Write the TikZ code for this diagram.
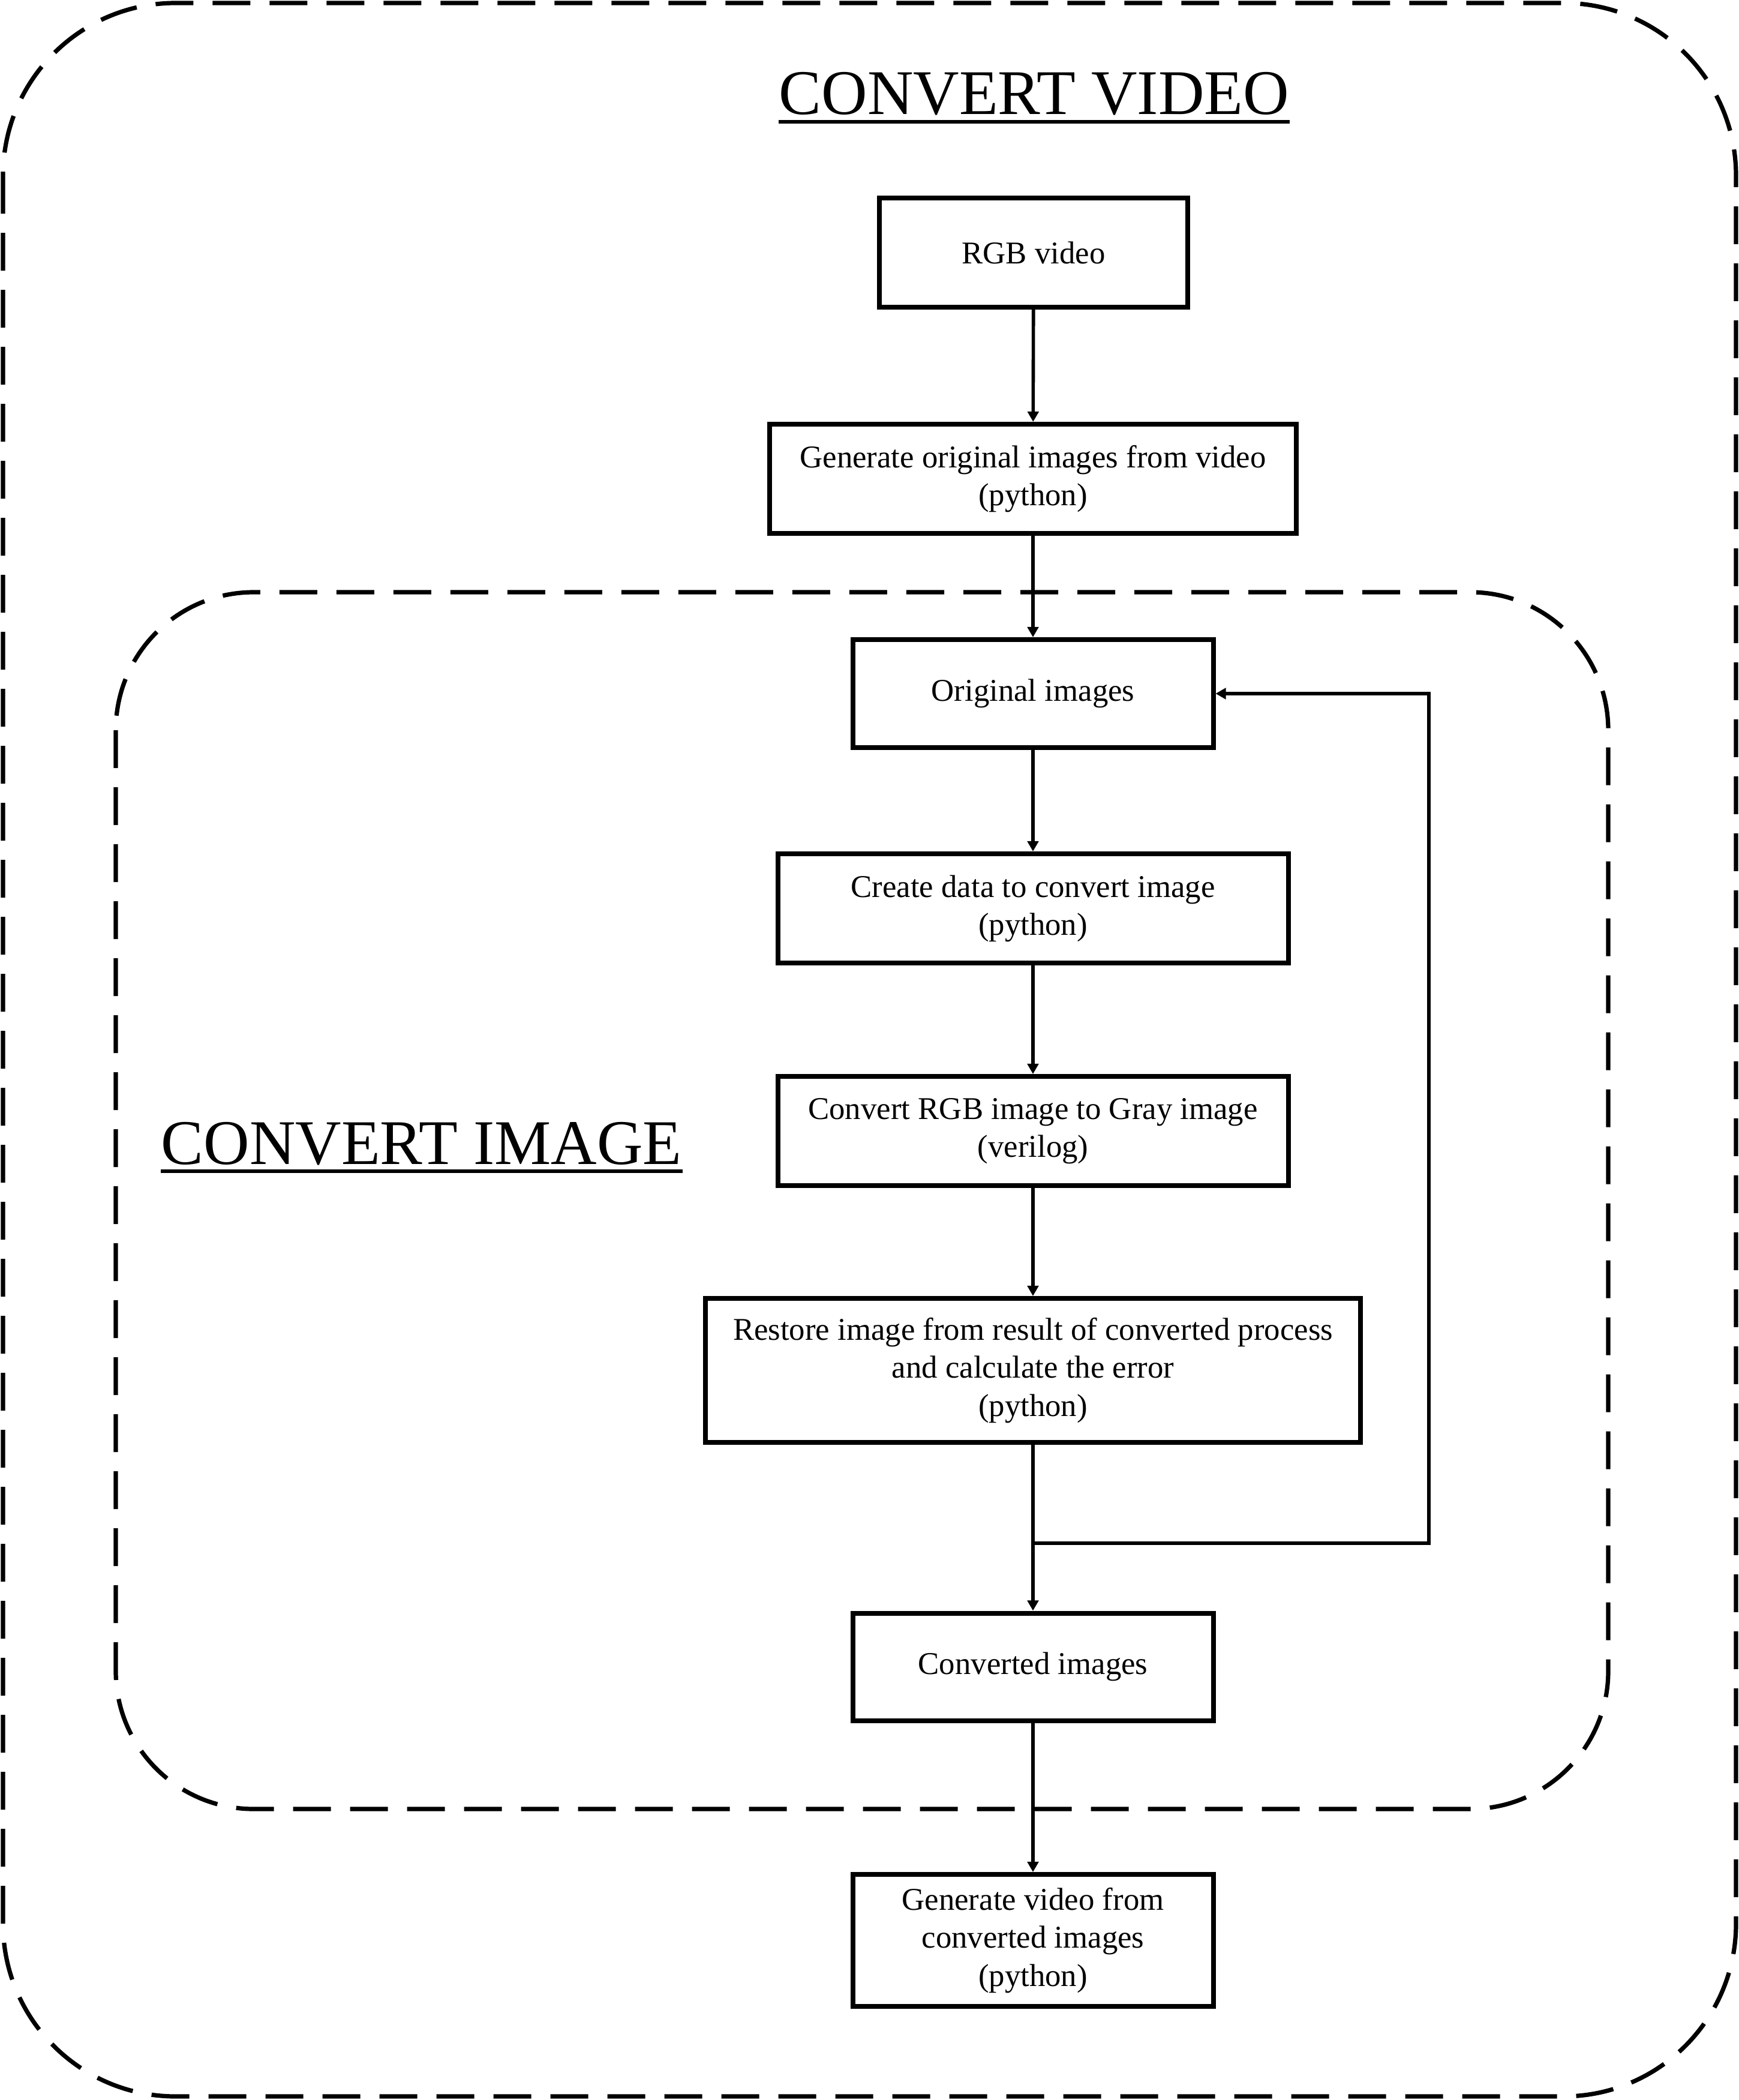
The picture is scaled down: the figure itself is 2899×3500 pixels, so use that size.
\documentclass[tikz,border=0pt]{standalone}
\usepackage{fontspec}
\setmainfont{Liberation Serif}
\usetikzlibrary{arrows.meta}
\begin{document}
\begin{tikzpicture}[x=0.25pt,y=-0.25pt,
  stepbox/.style={draw,line width=2pt,align=center,inner sep=0pt,
    font=\fontsize{13.2}{15.8}\selectfont},
  conn/.style={line width=1.4pt,-{Triangle[length=4.3pt,width=4.6pt]}},
  plainline/.style={line width=1.4pt},
  dashframe/.style={line width=1.8pt,dash pattern=on 15.75pt off 8pt},
  title/.style={inner sep=0pt,anchor=base west,font=\fontsize{26.5}{30}\selectfont},
  uline/.style={line width=1.4pt}]
\useasboundingbox (0,0) rectangle (2899,3500);
% frames
\draw[dashframe,rounded corners=72pt] (5,5) rectangle (2894,3494);
\draw[dashframe,rounded corners=57.5pt] (193,987) rectangle (2681,3015);
% titles
\node[title] (tv) at (1298,191) {CONVERT VIDEO};
\draw[uline] ([yshift=-3pt]tv.base west) -- ([yshift=-3pt]tv.base east);
\node[title] (ti) at (268,1940) {CONVERT IMAGE};
\draw[uline] ([yshift=-3pt]ti.base west) -- ([yshift=-3pt]ti.base east);
% boxes
\node[stepbox,minimum width=128.5pt,minimum height=45.5pt] (rgb) at (1723,421) {RGB video};
\node[stepbox,minimum width=219.5pt,minimum height=45.5pt] (gen) at (1722,798) {Generate original images from video\\(python)};
\node[stepbox,minimum width=150.25pt,minimum height=45pt] (orig) at (1722,1156) {Original images};
\node[stepbox,minimum width=212.75pt,minimum height=45.5pt] (create) at (1722,1514) {Create data to convert image\\(python)};
\node[stepbox,minimum width=212.75pt,minimum height=45.5pt] (conv) at (1722,1885) {Convert RGB image to Gray image\\(verilog)};
\node[stepbox,minimum width=273pt,minimum height=60pt] (restore) at (1722,2284) {Restore image from result of converted process\\and calculate the error\\(python)};
\node[stepbox,minimum width=150.25pt,minimum height=44.75pt] (cimg) at (1722,2778) {Converted images};
\node[stepbox,minimum width=150.25pt,minimum height=55pt] (gvid) at (1722,3234) {Generate video from\\converted images\\(python)};
% connectors
\draw[conn] (rgb) -- (gen);
\draw[conn] (gen) -- (orig);
\draw[conn] (orig) -- (create);
\draw[conn] (create) -- (conv);
\draw[conn] (conv) -- (restore);
\draw[conn] (restore) -- (cimg);
\draw[conn] (cimg) -- (gvid);
\coordinate (j) at (1722,2572);
\coordinate (fr) at (2382,2572);
\draw[conn] (j) -- (fr) |- (orig.east);
\end{tikzpicture}
\end{document}
